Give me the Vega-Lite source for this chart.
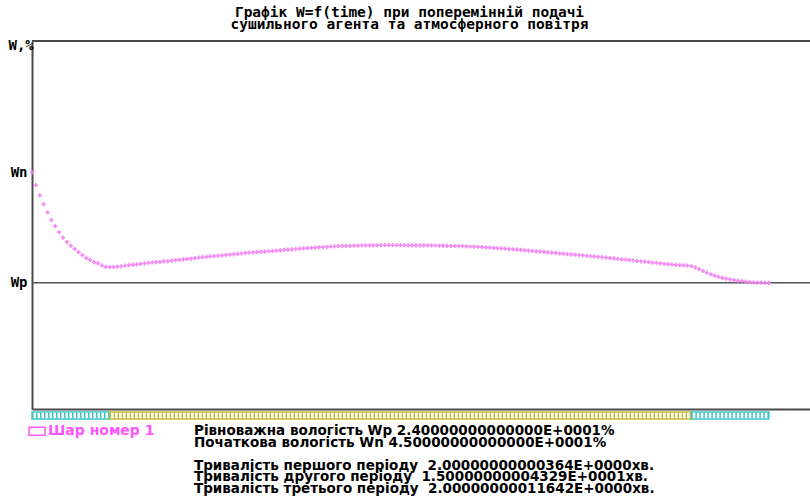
{
  "$schema": "https://vega.github.io/schema/vega-lite/v6.json",
  "background": "white",
  "padding": {"left": 8, "top": 4, "right": 0, "bottom": 0},
  "bounds": "flush",
  "title": {
    "text": ["Графік W=f(time) при поперемінній подачі", "сушильного агента та атмосферного повітря"],
    "font": "DejaVu Sans Mono", "fontSize": 14.5, "fontWeight": "bold", "color": "black",
    "anchor": "middle", "lineHeight": 12, "offset": 6
  },
  "config": {"view": {"stroke": null}, "concat": {"spacing": 3}},
  "resolve": {
    "scale": {"color": "independent", "stroke": "independent"},
    "legend": {"color": "independent", "stroke": "independent"}
  },
  "datasets": {
    "curve": [
      {"t":0.0,"w":45.0},{"t":0.1,"w":42.6},{"t":0.2,"w":40.65},{"t":0.3,"w":38.95},{"t":0.4,"w":37.4},{"t":0.5,"w":35.95},{"t":0.6,"w":34.8},{"t":0.7,"w":33.65},{"t":0.8,"w":32.6},{"t":0.9,"w":31.75},
      {"t":1.0,"w":31.05},{"t":1.1,"w":30.45},{"t":1.2,"w":29.85},{"t":1.3,"w":29.25},{"t":1.4,"w":28.75},{"t":1.5,"w":28.35},{"t":1.6,"w":27.95},{"t":1.7,"w":27.7},{"t":1.8,"w":27.3},{"t":1.9,"w":27.05},
      {"t":2.0,"w":27.0},{"t":2.1,"w":27.02},{"t":2.2,"w":27.08},{"t":2.3,"w":27.15},{"t":2.4,"w":27.25},{"t":2.5,"w":27.35},{"t":2.6,"w":27.42},{"t":2.7,"w":27.5},{"t":2.8,"w":27.6},{"t":2.9,"w":27.7},
      {"t":3.0,"w":27.8},{"t":3.1,"w":27.87},{"t":3.2,"w":27.94},{"t":3.3,"w":28.0},{"t":3.4,"w":28.08},{"t":3.5,"w":28.15},{"t":3.6,"w":28.23},{"t":3.7,"w":28.3},{"t":3.8,"w":28.38},{"t":3.9,"w":28.46},
      {"t":4.0,"w":28.55},{"t":4.1,"w":28.62},{"t":4.2,"w":28.7},{"t":4.3,"w":28.8},{"t":4.4,"w":28.87},{"t":4.5,"w":28.95},{"t":4.6,"w":29.02},{"t":4.7,"w":29.08},{"t":4.8,"w":29.15},{"t":4.9,"w":29.22},
      {"t":5.0,"w":29.3},{"t":5.1,"w":29.36},{"t":5.2,"w":29.43},{"t":5.3,"w":29.5},{"t":5.4,"w":29.58},{"t":5.5,"w":29.66},{"t":5.6,"w":29.73},{"t":5.7,"w":29.78},{"t":5.8,"w":29.84},{"t":5.9,"w":29.9},
      {"t":6.0,"w":29.95},{"t":6.1,"w":30.01},{"t":6.2,"w":30.07},{"t":6.3,"w":30.13},{"t":6.4,"w":30.19},{"t":6.5,"w":30.25},{"t":6.6,"w":30.31},{"t":6.7,"w":30.37},{"t":6.8,"w":30.43},{"t":6.9,"w":30.49},
      {"t":7.0,"w":30.55},{"t":7.1,"w":30.6},{"t":7.2,"w":30.65},{"t":7.3,"w":30.7},{"t":7.4,"w":30.75},{"t":7.5,"w":30.8},{"t":7.6,"w":30.86},{"t":7.7,"w":30.91},{"t":7.8,"w":30.95},{"t":7.9,"w":30.98},
      {"t":8.0,"w":31.01},{"t":8.1,"w":31.03},{"t":8.2,"w":31.05},{"t":8.3,"w":31.07},{"t":8.4,"w":31.09},{"t":8.5,"w":31.1},{"t":8.6,"w":31.12},{"t":8.7,"w":31.13},{"t":8.8,"w":31.14},{"t":8.9,"w":31.14},
      {"t":9.0,"w":31.15},{"t":9.1,"w":31.15},{"t":9.2,"w":31.15},{"t":9.3,"w":31.15},{"t":9.4,"w":31.15},{"t":9.5,"w":31.15},{"t":9.6,"w":31.15},{"t":9.7,"w":31.14},{"t":9.8,"w":31.14},{"t":9.9,"w":31.13},
      {"t":10.0,"w":31.13},{"t":10.1,"w":31.12},{"t":10.2,"w":31.12},{"t":10.3,"w":31.11},{"t":10.4,"w":31.1},{"t":10.5,"w":31.08},{"t":10.6,"w":31.06},{"t":10.7,"w":31.05},{"t":10.8,"w":31.03},{"t":10.9,"w":31.01},
      {"t":11.0,"w":30.99},{"t":11.1,"w":30.97},{"t":11.2,"w":30.95},{"t":11.3,"w":30.91},{"t":11.4,"w":30.87},{"t":11.5,"w":30.83},{"t":11.6,"w":30.79},{"t":11.7,"w":30.74},{"t":11.8,"w":30.7},{"t":11.9,"w":30.65},
      {"t":12.0,"w":30.6},{"t":12.1,"w":30.55},{"t":12.2,"w":30.49},{"t":12.3,"w":30.43},{"t":12.4,"w":30.37},{"t":12.5,"w":30.31},{"t":12.6,"w":30.25},{"t":12.7,"w":30.19},{"t":12.8,"w":30.12},{"t":12.9,"w":30.06},
      {"t":13.0,"w":29.99},{"t":13.1,"w":29.93},{"t":13.2,"w":29.87},{"t":13.3,"w":29.81},{"t":13.4,"w":29.74},{"t":13.5,"w":29.68},{"t":13.6,"w":29.61},{"t":13.7,"w":29.55},{"t":13.8,"w":29.48},{"t":13.9,"w":29.42},
      {"t":14.0,"w":29.35},{"t":14.1,"w":29.29},{"t":14.2,"w":29.22},{"t":14.3,"w":29.15},{"t":14.4,"w":29.08},{"t":14.5,"w":29.02},{"t":14.6,"w":28.95},{"t":14.7,"w":28.87},{"t":14.8,"w":28.79},{"t":14.9,"w":28.71},
      {"t":15.0,"w":28.64},{"t":15.1,"w":28.56},{"t":15.2,"w":28.48},{"t":15.3,"w":28.41},{"t":15.4,"w":28.33},{"t":15.5,"w":28.25},{"t":15.6,"w":28.17},{"t":15.7,"w":28.1},{"t":15.8,"w":28.02},{"t":15.9,"w":27.94},
      {"t":16.0,"w":27.86},{"t":16.1,"w":27.78},{"t":16.2,"w":27.7},{"t":16.3,"w":27.62},{"t":16.4,"w":27.55},{"t":16.5,"w":27.49},{"t":16.6,"w":27.43},{"t":16.7,"w":27.37},{"t":16.8,"w":27.31},{"t":16.9,"w":27.25},
      {"t":17.0,"w":27.18},{"t":17.1,"w":26.95},{"t":17.2,"w":26.6},{"t":17.3,"w":26.25},{"t":17.4,"w":25.92},{"t":17.5,"w":25.62},{"t":17.6,"w":25.37},{"t":17.7,"w":25.15},{"t":17.8,"w":24.95},{"t":17.9,"w":24.8},
      {"t":18.0,"w":24.65},{"t":18.1,"w":24.52},{"t":18.2,"w":24.42},{"t":18.3,"w":24.32},{"t":18.4,"w":24.23},{"t":18.5,"w":24.15},{"t":18.6,"w":24.1},{"t":18.7,"w":24.06},{"t":18.8,"w":24.03},{"t":18.9,"w":24.01},
      {"t":19.0,"w":24.0}
    ],
    "levels": [{"name": "Wp", "w": 24}],
    "periods": [
      {"start": 0, "end": 2, "phase": "supply"},
      {"start": 2, "end": 17, "phase": "air"},
      {"start": 17, "end": 19, "phase": "supply"}
    ],
    "layers": [{"line": 0, "label": "Шар номер 1"}],
    "info": [
      {"line": 0, "text": "Рівноважна вологість Wp 2.40000000000000E+0001%"},
      {"line": 1, "text": "Початкова вологість Wn 4.50000000000000E+0001%"},
      {"line": 3, "text": "Тривалість першого періоду\u00a0 2.00000000000364E+0000хв."},
      {"line": 4, "text": "Тривалість другого періоду\u00a0 1.50000000004329E+0001хв."},
      {"line": 5, "text": "Тривалість третього періоду\u00a0 2.00000000011642E+0000хв."}
    ]
  },
  "vconcat": [
    {
      "width": 778,
      "height": 368,
      "layer": [
        {
          "data": {"name": "levels"},
          "mark": {"type": "rule", "color": "#555555", "strokeWidth": 1.5},
          "encoding": {
            "y": {"field": "w", "type": "quantitative", "scale": {"domain": [0, 70], "nice": false, "zero": false}}
          }
        },
        {
          "data": {"values": [{"edge": "top"}]},
          "mark": {"type": "rule", "color": "#4a4a4a", "strokeWidth": 2},
          "encoding": {"y": {"datum": 70, "type": "quantitative"}}
        },
        {
          "data": {"name": "curve"},
          "mark": {"type": "point", "shape": "cross", "filled": true, "size": 18, "opacity": 0.9, "color": "#f27ff2"},
          "encoding": {
            "x": {
              "field": "t", "type": "quantitative",
              "scale": {"domain": [0, 20.06], "nice": false, "zero": false},
              "axis": {"domain": true, "domainColor": "#4a4a4a", "domainWidth": 2, "ticks": false, "labels": false, "grid": false, "title": null}
            },
            "y": {
              "field": "w", "type": "quantitative",
              "scale": {"domain": [0, 70], "nice": false, "zero": false},
              "axis": {
                "values": [24, 45],
                "labelExpr": "datum.value == 45 ? 'Wn' : 'Wp'",
                "domain": true, "domainColor": "#4a4a4a", "domainWidth": 2,
                "ticks": false, "grid": false,
                "labelFont": "DejaVu Sans Mono", "labelFontSize": 14, "labelFontWeight": "bold", "labelColor": "black", "labelPadding": 5,
                "title": "W,%", "titleAngle": 0, "titleAlign": "left", "titleBaseline": "middle",
                "titleX": -24, "titleY": 4,
                "titleFont": "DejaVu Sans Mono", "titleFontSize": 14, "titleFontWeight": "bold", "titleColor": "black"
              }
            }
          }
        }
      ]
    },
    {
      "width": 778,
      "height": 7,
      "data": {"name": "periods"},
      "layer": [
        {
          "mark": {"type": "rect", "fill": "white", "strokeWidth": 1.5},
          "encoding": {
            "x": {"field": "start", "type": "quantitative", "scale": {"domain": [0, 20.06], "nice": false, "zero": false}, "axis": null},
            "x2": {"field": "end"},
            "stroke": {"field": "phase", "type": "nominal", "scale": {"domain": ["supply", "air"], "range": ["#3cc6c6", "#c4bc3a"]}, "legend": null}
          }
        },
        {
          "mark": {"type": "rule", "strokeWidth": 6, "strokeDash": [1.5, 2.5]},
          "encoding": {
            "x": {"field": "start", "type": "quantitative", "scale": {"domain": [0, 20.06], "nice": false, "zero": false}, "axis": null},
            "x2": {"field": "end"},
            "y": {"datum": 0.5, "type": "quantitative", "scale": {"domain": [0, 1]}, "axis": null},
            "stroke": {"field": "phase", "type": "nominal", "scale": {"domain": ["supply", "air"], "range": ["#3cc6c6", "#c4bc3a"]}, "legend": null}
          }
        }
      ]
    },
    {
      "width": 778,
      "height": 66.7,
      "layer": [
        {
          "data": {"name": "layers"},
          "mark": {"type": "point", "shape": "M-1,-0.5H1V0.5H-1Z", "size": 256, "filled": false, "stroke": "#ff55ff", "strokeWidth": 1.5, "fill": "white", "opacity": 1},
          "encoding": {
            "x": {"value": 5},
            "y": {"field": "line", "type": "quantitative", "scale": {"domain": [-0.8, 5], "nice": false, "zero": false, "reverse": true}, "axis": null}
          }
        },
        {
          "data": {"name": "layers"},
          "mark": {"type": "text", "align": "left", "baseline": "middle", "font": "DejaVu Sans", "fontSize": 14, "fontWeight": "bold", "color": "#ff55ff"},
          "encoding": {
            "x": {"value": 16},
            "y": {"field": "line", "type": "quantitative", "scale": {"domain": [-0.8, 5], "nice": false, "zero": false, "reverse": true}, "axis": null},
            "text": {"field": "label"}
          }
        },
        {
          "data": {"name": "info"},
          "mark": {"type": "text", "align": "left", "baseline": "middle", "font": "DejaVu Sans", "fontSize": 13.5, "fontWeight": "bold", "color": "black"},
          "encoding": {
            "x": {"value": 162},
            "y": {"field": "line", "type": "quantitative", "scale": {"domain": [-0.8, 5], "nice": false, "zero": false, "reverse": true}, "axis": null},
            "text": {"field": "text"}
          }
        }
      ]
    }
  ]
}
